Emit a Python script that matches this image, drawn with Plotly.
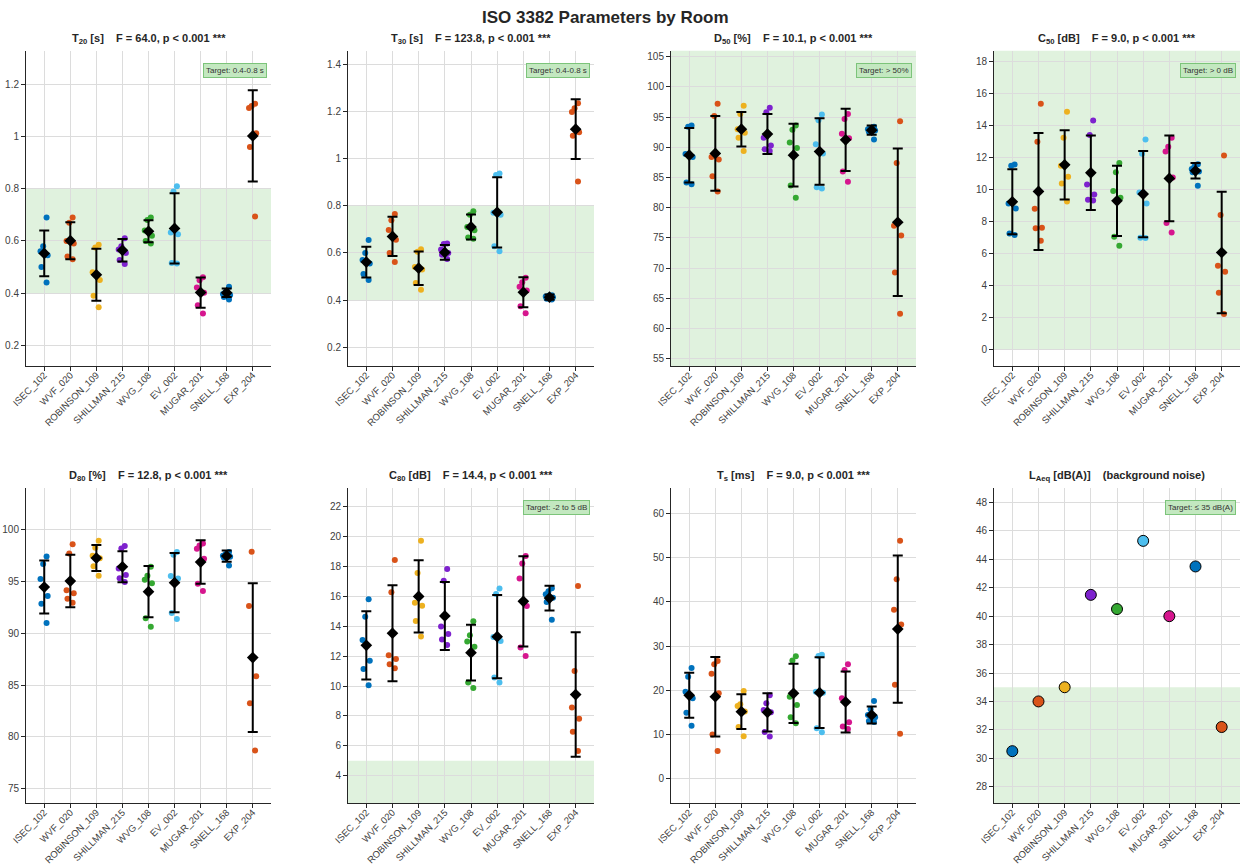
import plotly.graph_objects as go

ROOMS = ["ISEC_102", "WVF_020", "ROBINSON_109", "SHILLMAN_215", "WVG_108",
         "EV_002", "MUGAR_201", "SNELL_168", "EXP_204"]
ROOM_COLORS = ["#0072BD", "#D95319", "#EDB120", "#7E22CE", "#35A832",
               "#4DBEEE", "#D6168E", "#0072BD", "#D95319"]

# ---- per-room measurements (one list per room, same order as ROOMS) ----
T20_POINTS = [[0.69, 0.58, 0.56, 0.545, 0.50, 0.44],
              [0.69, 0.67, 0.59, 0.60, 0.54, 0.53],
              [0.585, 0.575, 0.48, 0.45, 0.39, 0.345],
              [0.61, 0.58, 0.567, 0.554, 0.527, 0.511],
              [0.69, 0.68, 0.62, 0.60, 0.59, 0.64],
              [0.81, 0.79, 0.632, 0.626, 0.515, 0.513],
              [0.461, 0.449, 0.421, 0.401, 0.353, 0.321],
              [0.424, 0.405, 0.396, 0.385, 0.375, 0.392],
              [1.126, 1.118, 1.110, 1.013, 0.960, 0.694]]
T20_MEAN = [0.552, 0.601, 0.470, 0.564, 0.637, 0.648, 0.402, 0.401, 1.003]
T20_SD = [0.088, 0.071, 0.100, 0.043, 0.042, 0.135, 0.058, 0.016, 0.175]

T30_POINTS = [[0.655, 0.60, 0.57, 0.555, 0.51, 0.485],
              [0.765, 0.739, 0.697, 0.656, 0.600, 0.561],
              [0.615, 0.605, 0.54, 0.53, 0.472, 0.444],
              [0.640, 0.638, 0.614, 0.60, 0.592, 0.574],
              [0.777, 0.762, 0.71, 0.696, 0.665, 0.660],
              [0.937, 0.930, 0.762, 0.77, 0.628, 0.607],
              [0.494, 0.475, 0.456, 0.44, 0.374, 0.344],
              [0.42, 0.418, 0.412, 0.405, 0.402, 0.415],
              [1.235, 1.214, 1.198, 1.112, 1.097, 0.903]]
T30_MEAN = [0.561, 0.670, 0.535, 0.602, 0.710, 0.772, 0.433, 0.412, 1.125]
T30_SD = [0.065, 0.083, 0.071, 0.031, 0.053, 0.149, 0.064, 0.011, 0.127]

D50_POINTS = [[93.6, 93.4, 88.9, 88.4, 84.2, 83.9],
              [97.2, 95.2, 88.4, 88.0, 85.2, 82.7],
              [96.9, 95.5, 93.0, 92.4, 91.6, 89.4],
              [96.55, 95.8, 91.6, 90.3, 89.7, 89.4],
              [93.6, 92.9, 90.8, 89.9, 83.7, 81.65],
              [95.45, 94.5, 90.5, 89.0, 83.4, 83.2],
              [95.5, 94.7, 92.25, 91.5, 86.0, 84.3],
              [93.4, 93.2, 93.0, 92.8, 92.6, 91.3],
              [94.3, 87.4, 77.0, 75.4, 69.3, 62.45]]
D50_MEAN = [88.7, 89.0, 93.0, 92.2, 88.7, 89.3, 91.25, 92.85, 77.6]
D50_SD = [4.5, 6.2, 2.85, 3.3, 5.2, 5.5, 5.15, 0.75, 12.2]

C50_POINTS = [[11.58, 11.5, 9.15, 8.83, 7.27, 7.17],
              [15.38, 13.0, 8.81, 7.63, 7.6, 6.81],
              [14.88, 13.25, 11.5, 10.81, 10.4, 9.27],
              [14.33, 13.42, 10.33, 9.71, 9.33, 9.38],
              [11.67, 11.1, 9.92, 9.5, 7.06, 6.5],
              [13.15, 12.25, 9.83, 9.15, 7.0, 6.98],
              [13.25, 12.69, 12.4, 10.77, 7.92, 7.33],
              [11.6, 11.45, 11.3, 11.15, 11.1, 10.25],
              [12.15, 8.42, 5.25, 4.88, 3.56, 2.23]]
C50_MEAN = [9.25, 9.9, 11.56, 11.06, 9.31, 9.73, 10.71, 11.19, 6.08]
C50_SD = [2.03, 3.66, 2.17, 2.33, 2.2, 2.69, 2.68, 0.48, 3.8]

D80_POINTS = [[97.43, 96.7, 95.25, 93.6, 92.87, 91.0],
              [98.59, 97.7, 94.15, 93.86, 93.35, 92.96],
              [98.94, 98.27, 97.5, 97.24, 96.47, 95.57],
              [98.43, 98.2, 96.27, 95.63, 95.31, 94.95],
              [96.43, 95.57, 95.18, 94.83, 91.45, 90.65],
              [97.85, 97.59, 95.53, 95.3, 91.97, 91.39],
              [98.68, 98.49, 98.17, 97.2, 94.8, 94.09],
              [97.85, 97.65, 97.5, 97.4, 97.3, 96.56],
              [97.88, 92.64, 85.86, 83.26, 78.7]]
D80_MEAN = [94.47, 95.05, 97.27, 96.43, 94.02, 94.89, 96.88, 97.46, 87.66]
D80_SD = [2.56, 2.53, 1.26, 1.5, 2.47, 2.86, 2.1, 0.54, 7.17]

C80_POINTS = [[15.81, 14.65, 13.09, 11.7, 11.15, 10.05],
              [18.45, 16.28, 12.06, 11.82, 11.46, 11.19],
              [19.74, 17.58, 15.59, 15.39, 14.36, 13.33],
              [17.85, 17.06, 14.0, 13.49, 13.13, 12.75],
              [14.34, 13.4, 12.98, 12.64, 10.25, 9.87],
              [16.53, 16.17, 13.29, 13.02, 10.57, 10.25],
              [18.72, 18.22, 17.2, 15.37, 12.58, 12.02],
              [16.55, 16.35, 16.15, 15.92, 15.63, 14.45],
              [16.71, 11.01, 8.56, 7.82, 6.95, 5.65]]
C80_MEAN = [12.73, 13.54, 16.01, 14.70, 12.24, 13.31, 15.68, 15.90, 9.43]
C80_SD = [2.29, 3.22, 2.42, 2.28, 1.87, 2.79, 3.02, 0.83, 4.17]

TS_POINTS = [[25.0, 23.06, 19.67, 18.16, 14.92, 11.98],
             [26.6, 25.85, 23.74, 19.3, 9.95, 6.25],
             [19.82, 16.8, 16.43, 15.2, 11.68, 9.57],
             [18.84, 17.03, 15.52, 15.0, 10.55, 9.5],
             [27.66, 26.75, 18.54, 16.65, 13.87, 12.51],
             [28.03, 27.73, 19.67, 19.4, 11.38, 10.47],
             [25.85, 24.57, 18.16, 12.74, 11.76, 11.23],
             [17.56, 15.67, 14.39, 13.87, 13.04, 12.8],
             [53.8, 45.14, 38.2, 34.89, 21.25, 10.17]]
TS_MEAN = [18.84, 18.54, 15.15, 15.0, 19.29, 19.44, 17.33, 14.39, 33.84]
TS_SD = [5.1, 9.0, 3.96, 4.33, 6.7, 8.0, 6.9, 1.9, 16.66]

LAEQ = [30.5, 34.0, 35.0, 41.5, 40.5, 45.3, 40.0, 43.5, 32.2]

# ---- panel text ----
PANEL_TITLES = [
    "T<sub>20</sub> [s]\u00a0\u00a0\u00a0\u00a0F = 64.0, p &lt; 0.001 ***",
    "T<sub>30</sub> [s]\u00a0\u00a0\u00a0\u00a0F = 123.8, p &lt; 0.001 ***",
    "D<sub>50</sub> [%]\u00a0\u00a0\u00a0\u00a0F = 10.1, p &lt; 0.001 ***",
    "C<sub>50</sub> [dB]\u00a0\u00a0\u00a0\u00a0F = 9.0, p &lt; 0.001 ***",
    "D<sub>80</sub> [%]\u00a0\u00a0\u00a0\u00a0F = 12.8, p &lt; 0.001 ***",
    "C<sub>80</sub> [dB]\u00a0\u00a0\u00a0\u00a0F = 14.4, p &lt; 0.001 ***",
    "T<sub>s</sub> [ms]\u00a0\u00a0\u00a0\u00a0F = 9.0, p &lt; 0.001 ***",
    "L<sub>Aeq</sub> [dB(A)]\u00a0\u00a0\u00a0\u00a0(background noise)",
]
TARGET_TEXT = ["Target: 0.4-0.8 s", "Target: 0.4-0.8 s", "Target: > 50%", "Target: > 0 dB",
               None, "Target: -2 to 5 dB", None, "Target: \u2264 35 dB(A)"]
TARGET_LO = [0.4, 0.4, 50, 0, None, -2, None, 0]
TARGET_HI = [0.8, 0.8, 200, 100, None, 5, None, 35]
Y_RANGES = [[0.12, 1.33], [0.12, 1.458], [53.8, 106], [-1.02, 18.7],
            [73.6, 104.0], [2.15, 23.25], [-5.6, 65.7], [26.83, 49.0]]
Y_TICKS = [[0.2, 0.4, 0.6, 0.8, 1, 1.2],
           [0.2, 0.4, 0.6, 0.8, 1, 1.2, 1.4],
           [55, 60, 65, 70, 75, 80, 85, 90, 95, 100, 105],
           [0, 2, 4, 6, 8, 10, 12, 14, 16, 18],
           [75, 80, 85, 90, 95, 100],
           [4, 6, 8, 10, 12, 14, 16, 18, 20, 22],
           [0, 10, 20, 30, 40, 50, 60],
           [28, 30, 32, 34, 36, 38, 40, 42, 44, 46, 48]]

PANELS = [(T20_POINTS, T20_MEAN, T20_SD), (T30_POINTS, T30_MEAN, T30_SD),
          (D50_POINTS, D50_MEAN, D50_SD), (C50_POINTS, C50_MEAN, C50_SD),
          (D80_POINTS, D80_MEAN, D80_SD), (C80_POINTS, C80_MEAN, C80_SD),
          (TS_POINTS, TS_MEAN, TS_SD), None]

W, H = 1244, 865
COL_PX = [(26, 271), (348, 594), (671, 916), (994, 1240)]
ROW_PX = [(50.7, 366.0), (488.3, 803.3)]

AXIS_COLOR = "#262626"
GRID_COLOR = "#dcdcdc"
FONT = "Liberation Sans, Arial, sans-serif"
YTICK_FONT = dict(family=FONT, size=10, color="#404040")
XTICK_FONT = dict(family=FONT, size=9.5, color="#404040")

fig = go.Figure()
layout = dict(
    width=W, height=H, margin=dict(l=0, r=0, t=0, b=0, autoexpand=False),
    paper_bgcolor="white", plot_bgcolor="white", showlegend=False,
    boxmode="overlay",
    font=dict(family=FONT, color="#262626"),
)
shapes = []
annotations = []

for i in range(8):
    r, c = divmod(i, 4)
    n = i + 1
    xa = "x" if n == 1 else f"x{n}"
    ya = "y" if n == 1 else f"y{n}"
    x0, x1 = COL_PX[c]
    t0, t1 = ROW_PX[r]
    layout["xaxis" if n == 1 else f"xaxis{n}"] = dict(
        domain=[x0 / W, x1 / W], anchor=ya, type="category",
        categoryorder="array", categoryarray=ROOMS, range=[-0.7, 8.7],
        showgrid=True, gridcolor=GRID_COLOR, gridwidth=1,
        showline=True, linecolor=AXIS_COLOR, linewidth=1,
        ticks="outside", ticklen=4, tickcolor=AXIS_COLOR, ticklabelstandoff=-5,
        tickangle=-45, tickfont=XTICK_FONT, zeroline=False, fixedrange=True,
        automargin=False,
    )
    layout["yaxis" if n == 1 else f"yaxis{n}"] = dict(
        domain=[1 - t1 / H, 1 - t0 / H], anchor=xa, range=Y_RANGES[i],
        tickmode="array", tickvals=Y_TICKS[i], ticktext=[f"{v:g}" for v in Y_TICKS[i]],
        showgrid=True, gridcolor=GRID_COLOR, gridwidth=1,
        showline=True, linecolor=AXIS_COLOR, linewidth=1,
        ticks="outside", ticklen=4, tickcolor=AXIS_COLOR,
        tickfont=YTICK_FONT, zeroline=False, fixedrange=True,
        automargin=False,
    )

    if TARGET_LO[i] is not None:
        shapes.append(dict(type="rect", xref=f"{xa} domain", yref=ya,
                           x0=0, x1=1, y0=TARGET_LO[i], y1=TARGET_HI[i],
                           fillcolor="#e0f2de", line=dict(width=0), layer="below"))
    if TARGET_TEXT[i] is not None:
        annotations.append(dict(
            text=TARGET_TEXT[i], xref=f"{xa} domain", yref=f"{ya} domain",
            x=0.985, y=1, xanchor="right", yanchor="top", yshift=-12,
            showarrow=False, font=dict(size=8, color="#333333"),
            bgcolor="#c3e8c0", bordercolor="#7cc47a", borderwidth=1, borderpad=2,
        ))
    annotations.append(dict(
        text="<b>" + PANEL_TITLES[i] + "</b>", xref=f"{xa} domain", yref=f"{ya} domain",
        x=0.5, y=1, xanchor="center", yanchor="middle", yshift=12,
        showarrow=False, font=dict(size=11, color="#262626"),
    ))

    if PANELS[i] is not None:
        pts, means, sds = PANELS[i]
        for room, col, vals in zip(ROOMS, ROOM_COLORS, pts):
            fig.add_trace(go.Box(
                x=[room] * len(vals), y=vals, xaxis=xa, yaxis=ya,
                boxpoints="all", jitter=1.0, pointpos=0, width=0.34,
                fillcolor="rgba(0,0,0,0)", line=dict(width=0, color="rgba(0,0,0,0)"),
                marker=dict(color=col, size=6, opacity=1), hoveron="points",
                showlegend=False,
            ))
        fig.add_trace(go.Scatter(
            x=ROOMS, y=means, xaxis=xa, yaxis=ya, mode="markers",
            marker=dict(symbol="diamond", color="black", size=9),
            error_y=dict(type="data", array=sds, visible=True, color="black",
                         thickness=2, width=5),
            showlegend=False,
        ))
    else:
        fig.add_trace(go.Scatter(
            x=ROOMS, y=LAEQ, xaxis=xa, yaxis=ya, mode="markers",
            marker=dict(color=ROOM_COLORS, size=11, line=dict(color="black", width=1)),
            showlegend=False,
        ))

annotations.append(dict(
    text="<b>ISO 3382 Parameters by Room</b>", xref="paper", yref="paper",
    x=605 / W, y=1 - 18 / H, xanchor="center", yanchor="middle",
    showarrow=False, font=dict(size=17, color="#262626"),
))

layout["shapes"] = shapes
layout["annotations"] = annotations
fig.update_layout(**layout)
fig.write_html("out.html", config={"displayModeBar": False},
               post_script="document.body.style.margin='0';document.body.style.overflow='hidden';")
